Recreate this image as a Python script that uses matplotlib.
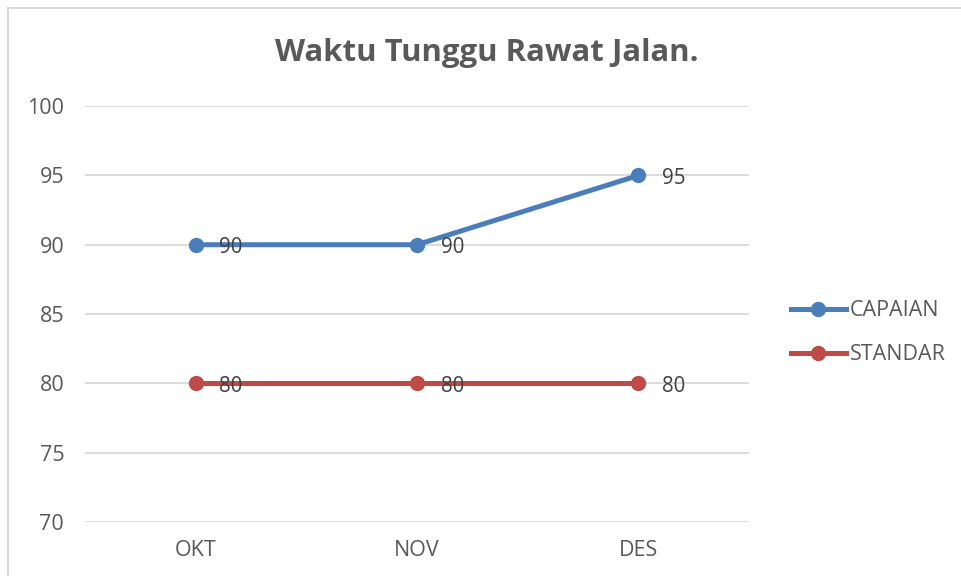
import matplotlib.pyplot as plt
from matplotlib.patches import Rectangle

# data
bulan = ['OKT', 'NOV', 'DES']
capaian = [90, 90, 95]
standar = [80, 80, 80]
y_ticks = [70, 75, 80, 85, 90, 95, 100]

plt.rcParams['font.family'] = ['Open Sans', 'DejaVu Sans']
abu = '#595959'

fig = plt.figure(figsize=(9.61, 5.76), dpi=100)
ax = fig.add_axes([0.0885, 0.0938, 0.691, 0.722])

x = range(len(bulan))
ax.plot(x, capaian, color='#4A7EBB', lw=3.6, marker='o', ms=10, label='CAPAIAN', zorder=3)
ax.plot(x, standar, color='#BE4B48', lw=3.6, marker='o', ms=10, label='STANDAR', zorder=3)

# label nilai di kanan titik
for i in x:
    ax.annotate(str(capaian[i]), (i, capaian[i]), xytext=(17, -2), textcoords='offset points',
                ha='left', va='center', fontsize=14.8, color='#404040')
    ax.annotate(str(standar[i]), (i, standar[i]), xytext=(17, -2), textcoords='offset points',
                ha='left', va='center', fontsize=14.8, color='#404040')

ax.set_xlim(-0.5, 2.5)
ax.set_ylim(70, 100)
ax.set_yticks(y_ticks)
ax.set_xticks(list(x))
ax.set_xticklabels(bulan)
ax.tick_params(axis='both', length=0, labelsize=15.5, labelcolor=abu)
ax.tick_params(axis='y', pad=15)
ax.tick_params(axis='x', pad=13)
ax.grid(axis='y', color='#D9D9D9', lw=1.3)
ax.set_axisbelow(True)
for s in ax.spines.values():
    s.set_visible(False)

fig.text(0.507, 0.908, 'Waktu Tunggu Rawat Jalan.', ha='center', va='center',
         fontsize=22.4, fontweight='bold', color=abu)

fig.legend(loc='center left', bbox_to_anchor=(0.8025, 0.422), frameon=False,
           fontsize=15.5, labelcolor=abu, handlelength=2.56, handletextpad=0.19,
           labelspacing=1.07)

# bingkai grafik
fig.patches.append(Rectangle((8 / 961, -0.1), 1.2, 1 - 7.5 / 576 + 0.1, transform=fig.transFigure,
                             fill=False, edgecolor='#D9D9D9', lw=1.5))

fig.savefig('out.png', dpi=100)
